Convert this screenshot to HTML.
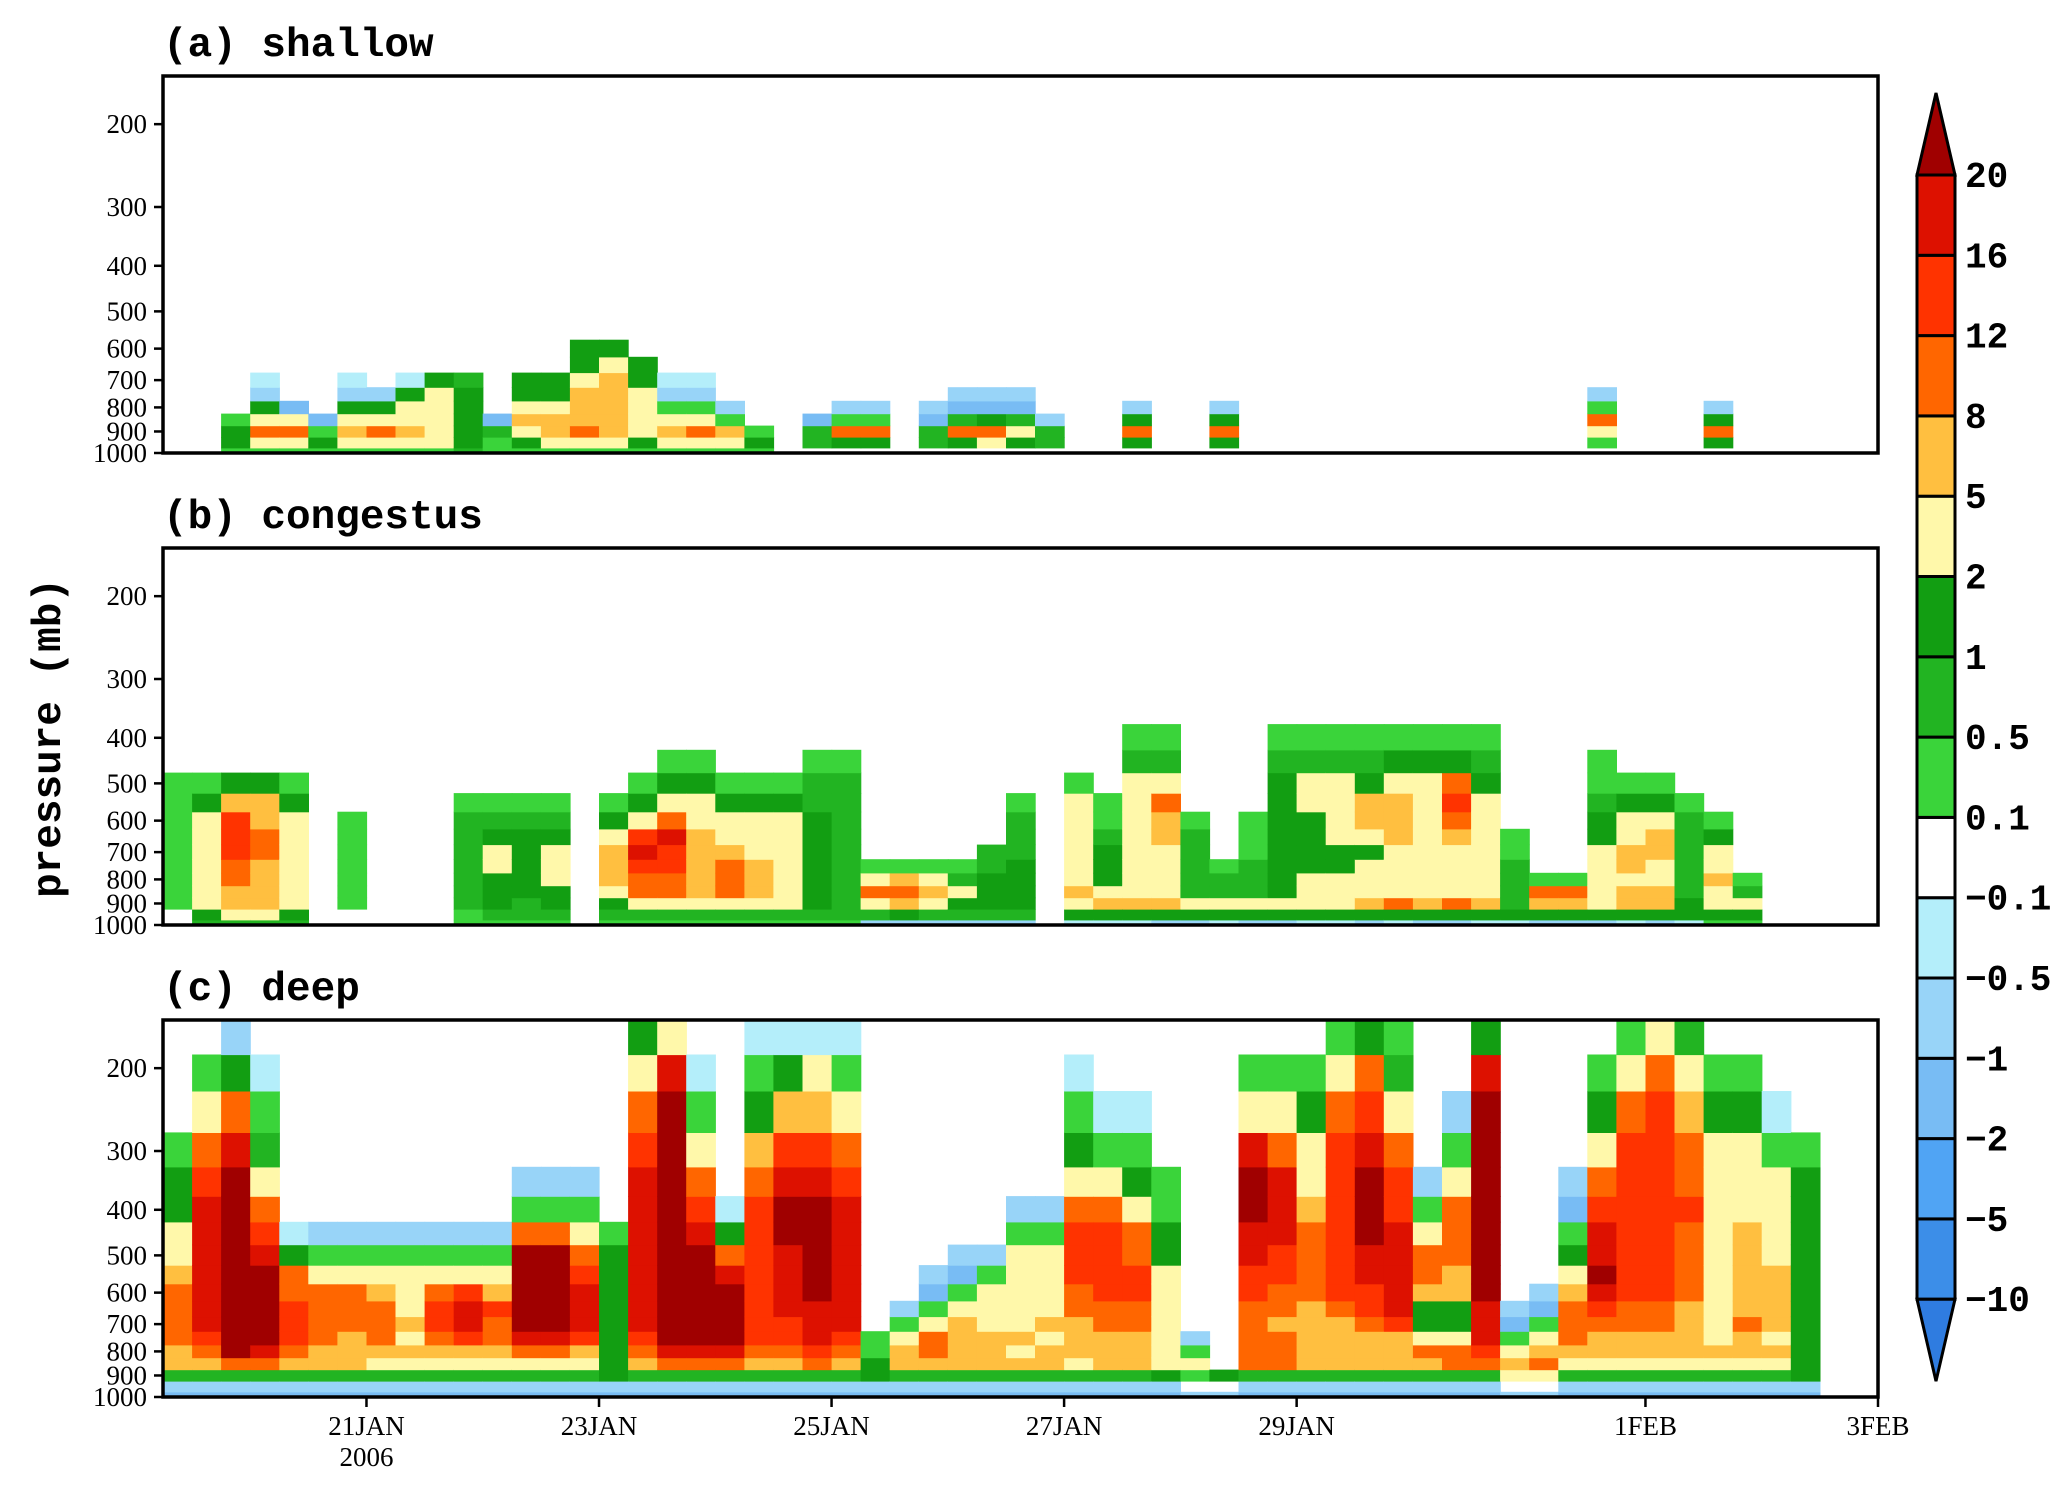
<!DOCTYPE html>
<html><head><meta charset="utf-8"><style>
html,body{margin:0;padding:0;background:#fff;}
svg{display:block;}
.tk{font-family:"Liberation Serif",serif;font-size:27px;fill:#000;}
.ttl{font-family:"Liberation Mono",monospace;font-weight:bold;font-size:41px;fill:#000;}
.cb{font-family:"Liberation Mono",monospace;font-weight:bold;font-size:36px;fill:#000;}
</style></head><body>
<svg id="chart" width="2067" height="1488" viewBox="0 0 2067 1488" xmlns="http://www.w3.org/2000/svg">
<g id="plots"></g>
<g id="axes"></g>
</svg>
<script>
// ---- data ----
const pressureLevels = [1000,950,900,850,800,750,700,650,600,550,500,450,400,350,300,250,200,175];
const yTicks = [200,300,400,500,600,700,800,900,1000];
const xTickDays = [21,23,25,27,29,32,34];
const xTickLabels = ["21JAN","23JAN","25JAN","27JAN","29JAN","1FEB","3FEB"];
const startDay = 19.25;
const stepDay = 0.25;
const codeValues = {'.':0,'a':-0.3,'b':-0.7,'c':-1.5,'d':-3,'e':-7,'f':-12,'1':0.3,'2':0.7,'3':1.5,'4':3.5,'5':6.5,'6':10,'7':14,'8':18,'9':22};
const levelBounds = [-10,-5,-2,-1,-0.5,-0.1,0.1,0.5,1,2,5,8,12,16,20];
const levelLabels = ["\u221210","\u22125","\u22122","\u22121","\u22120.5","\u22120.1","0.1","0.5","1","2","5","8","12","16","20"];
const levelColors = ["#2f7ce0","#3c8ee8","#50a4f4","#78bcf4","#98d4f8","#b4eefa","#ffffff","#3ad43a","#22b422","#129e12","#fff8aa","#ffbf40","#ff6600","#ff3300","#dd1100","#a00000"];
const shallowCols = ["","","1331","14643ba","1464c","131c","14543ba","14643b","145443a","1444443",
"2333332","112c","1345433","1455433","146555433","145555543","13444433","14541ba","14641ba","1451b",
"131","",".22c",".361b",".361b","",".22cb",".362cb",".463cb",".342cb",
".22b","","",".363b","","",".363b","","","",
"","","","","","","","","",".1461b",
"","","",".363b","","","","",""];
const congestusCols = ["..111111111","23444444431","24556677753","24555566553","23444444431","","..1111111","","","",
"1122222221","1233344321","1223333321","1233444321","","1234555431","12466787431","124667786431","124555554431","12466654431",
"12455544431","12444444431","123333333221","122222222221","b24641","b35651","b24541","b23421","b233322","b233332221",
"","a3454444441","a354333211","a354444444421","b354444556421","b34222221","a34221","b34222111","b343333333321","a344433334421",
"a344433444421","b354443455321","a364444555431","b354444444431","b364444567631","a354444444321","a3222211","b3561","b3561","b34444433211",
"a3554554431","b3554455431","a332222221","134454431","13421","","","",""];
const deepCols = ["cb2556666544331","cb256788888887641","cb269999999999863b","cb26899999876421a","cb256777663a","cb255666641b","cb255566641b","cb245666541b","cb245454441b","cb245677641b",
"cb245788741b","cb245667541b","cb24689999961b","cb24689999961b","cb24578887641b","cb3333333331","cb2567888888887643","cb2689999999999984","cb26899999987641a","cb2689999863a",
"cb256777777776531a","cb256778888998753a","cb267888999998754a","cb256788888887641a","cb3311","cb25541b","cb256641cb","cb2555541cb","cb25554441b","cb2545444441b",
"cb2554544441b","cb24555667776431a","cb2555667777641a","cb2555667766431a","cb344444443311","b.141b","b.3","cb266666778899841","cb266656677888641","cb255555666654431",
"cb2555567777777641","cb2555677889998763","cb2555788888776421","cb25643356641b","cb2664335566641b","cb2678889999999983","b.4541cb","b.46541cb","cb2456665431cb","cb245567898876431",
"cb2455667777777641","cb2455667777777764","cb2455556666766542","cb245444444444431","cb245565555544431","cb2454555544441a","cb3333333333331","",""];
const panelTitles = ["(a) shallow","(b) congestus","(c) deep"];

// ---- layout ----
const NS="http://www.w3.org/2000/svg";
const X0=163,X1=1878,PH=377,PTOP=158;
const panelTops=[76,548,1020];
function xScale(day){return X0+(day-startDay)*(X1-X0)/(34-startDay);}
function yScale(p,top){return top+PH-(PH/Math.log(1000/PTOP))*Math.log(1000/p);}
function colorFor(v){let k=0;while(k<levelBounds.length&&v>=levelBounds[k])k++;return levelColors[k];}
function mk(tag,attrs,parent){const e=document.createElementNS(NS,tag);for(const k in attrs)e.setAttribute(k,attrs[k]);parent.appendChild(e);return e;}
const plots=document.getElementById('plots');
const axes=document.getElementById('axes');
const panelData=[shallowCols,congestusCols,deepCols];
const panelNames=["shallow","congestus","deep"];
function bound(k){
  if(k<=0)return 1000; if(k>=pressureLevels.length)return PTOP;
  return Math.sqrt(pressureLevels[k-1]*pressureLevels[k]);}
panelData.forEach((cols,pi)=>{
  const top=panelTops[pi];
  const g=mk('g',{},plots);
  
  
  cols.forEach((s,ci)=>{
    for(let k=0;k<s.length;k++){
      const v=codeValues[s[k]]; if(v===undefined||v===0)continue;
      const xa=xScale(startDay+ci*stepDay),xb=xScale(startDay+(ci+1)*stepDay);
      const ya=yScale(bound(k+1),top),yb=yScale(bound(k),top);
      const r=mk('rect',{x:xa.toFixed(1),y:ya.toFixed(1),width:(xb-xa+0.6).toFixed(1),height:(yb-ya+0.6).toFixed(1),fill:colorFor(v)},g);
      
      
    }
  });
  const fr=mk('rect',{x:X0,y:top,width:X1-X0,height:PH,fill:'none',stroke:'#000','stroke-width':3.5},axes);
  
  
  const t=mk('text',{x:163,y:top-20,class:'ttl'},axes); t.textContent=panelTitles[pi];
  
  
  yTicks.forEach(p=>{
    const y=yScale(p,top);
    mk('line',{x1:X0-9,x2:X0,y1:y,y2:y,stroke:'#000','stroke-width':2.5},axes);
    const tl=mk('text',{x:147,y:y+9,class:'tk','text-anchor':'end'},axes); tl.textContent=p;
    
    
  });
});
const bottomY=panelTops[2]+PH;
xTickDays.forEach((d,i)=>{
  const x=xScale(d);
  mk('line',{x1:x,x2:x,y1:bottomY,y2:bottomY+10,stroke:'#000','stroke-width':2.5},axes);
  const tl=mk('text',{x:x,y:bottomY+38,class:'tk','text-anchor':'middle'},axes); tl.textContent=xTickLabels[i];
  
  
});
const yr=mk('text',{x:xScale(21),y:bottomY+69,class:'tk','text-anchor':'middle'},axes); yr.textContent="2006";


const yt=mk('text',{x:0,y:0,class:'ttl','text-anchor':'middle',transform:'translate(60,738) rotate(-90)','font-size':'46'},axes);
yt.textContent="pressure (mb)";


const CBX=1917,CBW=38,CBTOP=175,CBH=80.3;
const cb=mk('g',{},axes);


const nb=levelBounds.length;
for(let j=0;j<nb-1;j++){
  const yTop=CBTOP+(nb-2-j)*CBH;
  const r=mk('rect',{x:CBX,y:yTop,width:CBW,height:CBH,fill:levelColors[j+1],stroke:'#000','stroke-width':3},cb);
  
  
}
const cbBottom=CBTOP+(nb-1)*CBH;
const up=mk('polygon',{points:`${CBX},${CBTOP} ${CBX+CBW},${CBTOP} ${CBX+CBW/2},${CBTOP-82}`,fill:levelColors[15],stroke:'#000','stroke-width':3},cb);


const dn=mk('polygon',{points:`${CBX},${cbBottom} ${CBX+CBW},${cbBottom} ${CBX+CBW/2},${cbBottom+82}`,fill:levelColors[0],stroke:'#000','stroke-width':3},cb);


levelLabels.forEach((lab,j)=>{
  const y=CBTOP+(nb-1-j)*CBH;
  const tl=mk('text',{x:1965,y:y+12,class:'cb'},cb); tl.textContent=lab;
  
  
});
</script>
</body></html>
